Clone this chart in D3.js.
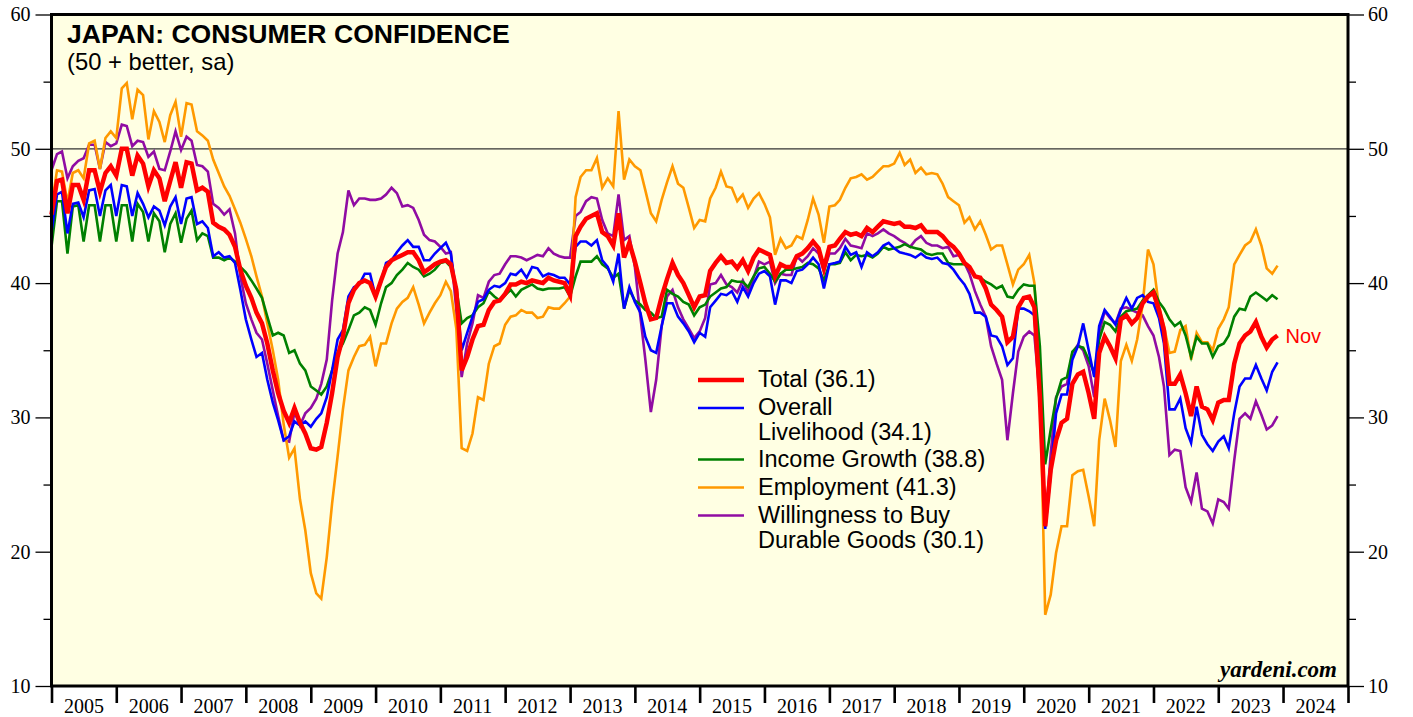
<!DOCTYPE html>
<html>
<head>
<meta charset="utf-8">
<script src="https://cdnjs.cloudflare.com/ajax/libs/d3/7.8.5/d3.min.js"></script>
<style>
  body { margin: 0; background: #fff; }
  svg { display: block; }
</style>
</head>
<body>
<svg id="chart" width="1413" height="717"></svg>
<script>
// monthly readings, Dec 2004 .. Nov 2023 (one row per year)
const firstMonth = new Date(2004, 11, 1);

const total = [
  45.1,
  47.6, 47.7, 45.2, 47.3, 47.3, 46.2, 48.4, 48.4, 46.8, 48.2, 48.7, 48.0,
  50.0, 50.0, 48.0, 49.5, 48.9, 47.2, 48.4, 47.8, 46.1, 47.6, 49.0, 47.1,
  49.0, 48.9, 46.9, 47.1, 46.8, 44.5, 44.2, 44.0, 43.6, 42.7, 41.0, 39.8,
  38.9, 37.8, 37.0, 35.5, 33.5, 31.8, 30.5, 29.6, 30.7, 29.6, 28.8, 27.7,
  27.6, 27.8, 29.6, 31.8, 34.5, 36.0, 38.5, 39.5, 40.0, 40.2, 40.0, 39.0,
  40.2, 41.2, 41.7, 41.9, 42.1, 42.3, 42.3, 41.7, 40.8, 41.1, 41.4, 41.6,
  41.7, 41.4, 39.5, 33.5, 34.5, 35.8, 36.8, 36.9, 38.0, 38.6, 38.7, 39.2,
  39.9, 39.9, 40.1, 40.0, 40.2, 40.1, 40.0, 40.4, 40.2, 40.1, 40.0, 39.1,
  43.5, 44.2, 44.8, 45.0, 45.2, 43.8, 43.5, 42.8, 45.2, 41.9, 43.0, 41.6,
  40.0, 38.5, 37.3, 37.4, 39.0, 40.3, 41.5, 40.6, 40.0, 39.1, 38.2, 39.0,
  39.1, 40.9, 41.5, 42.0, 41.5, 41.6, 41.1, 41.7, 40.9, 41.9, 42.5, 42.3,
  42.1, 40.5, 41.4, 41.2, 41.2, 42.0, 42.2, 42.6, 43.1, 42.6, 41.1, 42.7,
  42.8, 43.3, 43.8, 43.6, 43.7, 43.5, 44.1, 43.8, 44.2, 44.6, 44.5, 44.4,
  44.5, 44.2, 44.2, 44.1, 44.3, 43.8, 43.8, 43.8, 43.5, 43.0, 42.7, 42.2,
  41.5, 41.2, 40.5, 40.4, 39.6, 38.4, 38.0, 37.5, 35.6, 36.0, 38.2, 38.9,
  39.0, 38.2, 31.5, 21.9, 26.1, 28.3, 29.6, 29.9, 32.5, 33.2, 33.4, 31.8,
  29.9, 34.8, 36.0, 35.3, 34.4, 37.3, 37.6, 37.0, 37.4, 38.5, 39.0, 39.3,
  38.0, 36.5, 32.5, 32.5, 33.2, 31.8, 30.1, 32.3, 30.8, 30.6, 29.8, 31.1,
  31.3, 31.3, 34.0, 35.5, 36.1, 36.4, 37.1, 36.0, 35.2, 35.8, 36.1
];

const overallLivelihood = [
  43.8,
  46.6, 46.8, 43.7, 45.9, 46.0, 44.9, 46.9, 47.0, 45.0, 46.9, 47.3, 45.0,
  47.3, 47.2, 45.0, 46.7, 45.9, 44.9, 45.7, 45.4, 44.3, 45.7, 46.4, 44.4,
  46.3, 46.4, 44.4, 44.6, 44.1, 42.0, 42.3, 41.9, 42.0, 41.5, 39.5, 37.3,
  35.8, 34.5, 34.8, 32.8, 31.1, 29.8, 28.3, 28.6, 29.7, 29.4, 29.7, 29.3,
  29.9, 30.3, 31.5, 33.5, 35.8, 36.5, 39.0, 39.7, 39.9, 40.7, 40.7, 39.0,
  40.1, 41.5, 41.7, 42.3, 42.8, 43.2, 42.7, 42.7, 41.7, 41.7, 42.2, 42.6,
  43.0, 42.2, 39.2, 35.0, 36.3, 37.5, 38.6, 38.8, 39.5, 39.8, 39.7, 40.0,
  40.7, 40.6, 41.0, 40.4, 41.2, 41.1, 40.5, 40.7, 40.6, 40.4, 40.4, 39.9,
  42.7, 43.1, 43.1, 42.8, 43.2, 41.7, 41.2, 40.1, 42.2, 38.1, 39.7, 38.6,
  37.8, 36.0, 35.0, 34.8, 36.8, 38.5, 38.5, 37.5, 37.0, 36.4, 35.6, 36.3,
  36.0, 38.2, 38.7, 39.2, 39.1, 39.4, 38.6, 39.7, 39.0, 40.0, 40.7, 40.9,
  40.5, 38.4, 40.2, 40.2, 40.0, 40.9, 41.0, 41.4, 41.9, 41.4, 39.6, 41.4,
  41.5, 41.6, 42.7, 42.1, 42.3, 41.2, 42.3, 42.0, 42.3, 42.8, 43.0, 42.6,
  42.3, 42.2, 42.1, 41.9, 42.2, 41.9, 41.8, 41.9, 41.5, 41.4, 41.0, 40.4,
  39.9, 39.2, 37.8, 37.8, 37.5, 36.1, 36.0, 35.3, 33.9, 34.4, 38.1, 38.1,
  37.9, 37.6, 31.5, 21.7, 25.8, 30.3, 31.7, 31.7, 34.3, 35.3, 37.0, 35.0,
  33.0, 36.8, 38.0, 37.5, 36.9, 38.0, 38.9, 38.1, 38.9, 39.1, 38.6, 38.5,
  37.4, 35.5, 30.6, 30.6, 31.4, 29.2, 28.1, 30.8, 28.7, 28.0, 27.5, 28.2,
  28.6, 27.7, 30.3, 32.3, 32.9, 32.9, 33.9, 32.9, 32.0, 33.4, 34.1
];

const incomeGrowth = [
  42.7,
  46.1, 46.1, 42.2, 45.7, 45.8, 43.1, 45.8, 45.8, 43.1, 45.8, 45.8, 43.1,
  45.8, 45.8, 43.1, 45.9, 45.3, 43.1, 45.2, 44.6, 42.3, 44.4, 45.2, 43.0,
  44.8, 45.4, 43.2, 43.7, 43.5, 41.9, 41.9, 41.7, 41.9, 41.6, 41.2, 40.8,
  40.2, 39.6, 38.9, 37.5, 36.1, 36.3, 36.1, 34.8, 35.0, 34.0, 33.5, 32.3,
  32.0, 31.7, 32.3, 33.5, 34.8, 35.5, 36.5, 37.6, 37.8, 38.2, 38.0, 36.9,
  38.5, 39.7, 40.0, 40.6, 41.0, 41.5, 41.2, 41.0, 40.5, 40.7, 41.0, 41.5,
  41.6, 41.2, 39.6, 37.0, 37.4, 37.6, 38.2, 38.5, 39.4, 39.0, 38.7, 39.1,
  39.5, 39.0, 39.5, 39.7, 39.9, 39.6, 39.5, 39.6, 39.6, 39.6, 39.7, 39.0,
  40.5, 41.6, 41.6, 41.6, 42.0, 41.4, 41.1, 40.4, 40.7, 38.1, 39.5, 38.7,
  38.4, 38.0, 37.8, 37.4, 37.5, 39.5, 39.2, 39.0, 38.6, 38.4, 37.6, 38.2,
  38.4, 39.0, 39.3, 39.6, 39.7, 40.2, 40.1, 40.1, 39.7, 40.5, 41.1, 41.2,
  40.7, 40.1, 40.7, 41.0, 41.0, 41.1, 41.2, 41.5, 41.4, 41.1, 40.2, 41.4,
  41.4, 41.5, 42.3, 41.7, 42.1, 42.0, 42.1, 41.9, 42.2, 42.7, 42.5, 42.6,
  42.7, 42.9, 42.7, 42.6, 42.5, 42.2, 42.1, 42.2, 42.2, 41.5, 41.4, 41.4,
  41.4, 41.1, 40.5, 40.4, 40.1, 39.9, 39.6, 39.8, 39.0, 38.9, 39.5, 39.9,
  39.8, 39.8, 35.3, 26.5, 29.1, 31.4, 32.8, 33.0, 34.9, 35.3, 35.2, 34.3,
  33.3, 35.8, 37.1, 36.9, 36.4, 37.5, 37.9, 38.0, 38.1, 38.7, 39.1, 39.5,
  38.6, 38.1, 37.3, 36.8, 37.1, 36.1, 34.5, 36.0, 35.5, 35.5, 34.5, 35.3,
  35.5, 36.1, 37.5, 38.1, 38.0, 39.0, 39.3, 39.0, 38.7, 39.1, 38.8
];

const employment = [
  45.7,
  48.4, 48.3, 46.0, 48.2, 48.4, 47.8, 50.4, 50.6, 48.5, 50.8, 51.3, 50.8,
  54.5, 54.9, 52.2, 54.4, 54.0, 50.7, 52.8, 52.0, 50.5, 52.5, 53.5, 50.9,
  53.4, 53.3, 51.3, 51.0, 50.6, 49.2, 48.2, 47.2, 46.5, 45.5, 44.5, 43.3,
  42.0, 40.5, 39.0, 37.0, 35.0, 32.8, 29.5, 27.0, 27.7, 23.9, 21.6, 18.4,
  16.9, 16.5, 19.6, 23.6, 27.1, 30.6, 33.5, 34.5, 35.3, 35.4, 36.0, 33.8,
  35.5, 35.5, 37.0, 38.1, 38.6, 38.9, 39.7, 38.4, 37.0, 37.8, 38.5, 39.1,
  40.1, 39.4, 36.6, 27.7, 27.5, 28.8, 31.5, 31.3, 34.0, 35.3, 35.5, 36.9,
  37.5, 37.6, 38.0, 37.8, 37.8, 37.4, 37.5, 38.2, 38.1, 38.1, 38.5, 39.0,
  46.4, 47.9, 48.4, 48.4, 49.3, 47.1, 47.8, 47.2, 52.8, 47.7, 49.2, 48.7,
  48.4, 46.9, 45.2, 44.6, 46.2, 47.5, 48.7, 47.4, 47.1, 45.6, 44.1, 44.7,
  44.6, 46.3, 47.1, 48.3, 47.2, 47.1, 46.1, 46.6, 45.6, 46.3, 46.7, 45.9,
  44.9, 42.1, 43.3, 42.6, 42.8, 43.5, 43.3, 44.7, 46.3, 45.1, 43.0, 45.7,
  45.8, 46.2, 47.1, 47.8, 47.9, 48.1, 47.7, 47.9, 48.3, 48.7, 48.7, 48.9,
  49.7, 48.8, 49.2, 48.2, 48.6, 48.1, 48.2, 48.1, 47.4, 46.4, 46.1, 45.8,
  44.5, 44.9, 44.0, 44.6, 43.6, 42.5, 42.8, 42.8, 41.4, 39.9, 41.0, 41.4,
  42.1, 40.0, 32.8, 15.3, 16.8, 19.9, 21.9, 21.9, 25.7, 26.0, 26.1, 24.1,
  21.9, 28.3, 31.4, 29.8, 27.8, 34.2, 35.4, 34.2, 35.8, 38.4, 42.5, 41.4,
  38.2, 36.8, 34.8, 34.9, 36.5, 36.8, 34.3, 36.3, 35.6, 35.6, 35.0, 36.6,
  37.3, 38.2, 41.4, 42.1, 42.8, 43.1, 44.0, 42.8, 41.1, 40.7, 41.3
];

const durableGoods = [
  48.4,
  49.6, 49.8, 47.8, 48.7, 49.1, 49.3, 50.3, 50.3, 48.5, 50.5, 50.2, 50.4,
  51.8, 51.7, 50.2, 50.6, 50.5, 49.4, 49.8, 48.5, 48.4, 49.8, 51.3, 49.9,
  50.9, 50.6, 48.8, 48.7, 48.3, 45.9, 45.6, 45.1, 45.5, 43.7, 40.5, 38.5,
  37.3, 36.3, 35.8, 34.0, 32.0, 30.1, 28.3, 28.2, 30.4, 29.4, 30.3, 30.7,
  31.4, 32.5, 34.3, 38.7, 42.2, 43.8, 46.9, 45.8, 46.3, 46.3, 46.2, 46.2,
  46.3, 46.6, 47.1, 46.7, 45.7, 45.8, 45.6, 44.7, 43.6, 43.2, 43.1, 42.7,
  42.2, 42.3, 38.0, 33.0, 35.5, 37.0, 39.1, 38.9, 40.1, 40.6, 40.7, 41.4,
  42.0, 42.0, 41.9, 41.7, 41.9, 42.1, 42.0, 42.6, 42.2, 42.0, 41.9, 41.9,
  45.0, 45.3, 46.1, 46.4, 46.3, 44.7, 43.7, 43.5, 46.6, 43.2, 43.5, 41.2,
  37.5, 34.3, 30.4, 32.8, 36.8, 39.0, 39.5, 38.2, 37.3, 36.6, 35.9, 36.4,
  37.4, 39.9, 40.0, 40.6, 39.9, 39.7, 39.3, 40.2, 39.3, 40.4, 41.6, 41.4,
  41.6, 40.0, 40.7, 40.6, 40.6, 42.0, 41.6, 42.0, 42.6, 42.2, 40.9, 42.2,
  42.2, 42.6, 43.3, 42.8, 42.7, 42.6, 43.7, 43.5, 43.7, 44.0, 43.7, 43.5,
  43.2, 43.0, 42.7, 43.2, 43.5, 43.0, 42.8, 42.8, 42.6, 42.7, 42.0, 42.1,
  41.5, 40.7, 39.4, 38.4, 37.5, 35.3, 34.0, 32.8, 28.3, 31.8, 34.9, 36.0,
  36.4, 36.1, 31.5, 21.9, 27.3, 31.5, 32.3, 32.5, 34.8, 35.4, 35.0, 33.8,
  31.5, 36.3, 37.9, 37.4, 37.0, 38.1, 38.2, 38.0, 37.8, 37.6, 36.8, 36.1,
  34.5, 32.3, 27.2, 27.6, 27.5, 24.8, 23.7, 25.9, 23.2, 23.0, 22.1, 23.9,
  23.7, 23.2, 26.8, 29.9, 30.3, 29.9, 31.2, 30.2, 29.1, 29.4, 30.1
];

const yearLabels = d3.range(2005, 2025);
const yMajorTicks = [10, 20, 30, 40, 50, 60];
const yMinorTicks = [15, 25, 35, 45, 55];

const plot = { left: 51.5, right: 1348, top: 14.5, bottom: 686 };

const months = d3.timeMonth.range(firstMonth, d3.timeMonth.offset(firstMonth, total.length));

// legend order; drawn in reverse so Total sits on top
const series = [
  { name: ['Total'], values: total, color: '#ff0000', width: 4.5 },
  { name: ['Overall', 'Livelihood'], values: overallLivelihood, color: '#0000ff', width: 2.6 },
  { name: ['Income Growth'], values: incomeGrowth, color: '#008000', width: 2.6 },
  { name: ['Employment'], values: employment, color: '#ff9900', width: 2.6 },
  { name: ['Willingness to Buy', 'Durable Goods'], values: durableGoods, color: '#900ca3', width: 2.6 }
];

const svg = d3.select('#chart');

const x = d3.scaleTime()
  .domain([new Date(2005, 0, 1), new Date(2025, 0, 1)])
  .range([plot.left, plot.right]);

const y = d3.scaleLinear()
  .domain([10, 60])
  .range([plot.bottom, plot.top]);

// plot background
svg.append('rect')
  .attr('x', plot.left)
  .attr('y', plot.top)
  .attr('width', plot.right - plot.left)
  .attr('height', plot.bottom - plot.top)
  .attr('fill', '#ffffe3');

// 50 reference line
svg.append('line')
  .attr('x1', plot.left)
  .attr('x2', plot.right)
  .attr('y1', y(50))
  .attr('y2', y(50))
  .attr('stroke', '#333')
  .attr('stroke-width', 1.2);

// each reading sits at the end of its month
const line = d3.line()
  .x((d, i) => x(d3.timeMonth.offset(months[i], 1)))
  .y(d => y(d));

svg.append('g')
  .selectAll('path')
  .data(series.slice().reverse())
  .enter().append('path')
  .attr('d', d => line(d.values))
  .attr('fill', 'none')
  .attr('stroke', d => d.color)
  .attr('stroke-width', d => d.width);

// frame
svg.append('rect')
  .attr('x', plot.left)
  .attr('y', plot.top)
  .attr('width', plot.right - plot.left)
  .attr('height', plot.bottom - plot.top)
  .attr('fill', 'none')
  .attr('stroke', '#000')
  .attr('stroke-width', 3);

const styleAxis = g => {
  g.select('.domain').remove();
  g.selectAll('line').attr('stroke', '#000').attr('stroke-width', 1.3);
  g.selectAll('text')
    .attr('font-family', '"Liberation Serif", "Times New Roman", serif')
    .attr('font-size', 20)
    .attr('fill', '#000');
};

svg.append('g')
  .attr('transform', `translate(${plot.left},0)`)
  .call(d3.axisLeft(y).tickValues(yMajorTicks).tickSize(16).tickPadding(5))
  .call(styleAxis);

svg.append('g')
  .attr('transform', `translate(${plot.left},0)`)
  .call(d3.axisLeft(y).tickValues(yMinorTicks).tickSize(8).tickFormat(''))
  .call(styleAxis);

svg.append('g')
  .attr('transform', `translate(${plot.right},0)`)
  .call(d3.axisRight(y).tickValues(yMajorTicks).tickSize(16).tickPadding(4))
  .call(styleAxis);

svg.append('g')
  .attr('transform', `translate(${plot.right},0)`)
  .call(d3.axisRight(y).tickValues(yMinorTicks).tickSize(8).tickFormat(''))
  .call(styleAxis);

// year ticks at Jan 1, labels centred in each year
const xAxis = svg.append('g')
  .attr('transform', `translate(0,${plot.bottom})`)
  .call(d3.axisBottom(x).ticks(d3.timeYear.every(1)).tickSize(17).tickFormat(''))
  .call(styleAxis);
xAxis.selectAll('line').attr('stroke-width', 2.6);

svg.append('g')
  .selectAll('text')
  .data(yearLabels)
  .enter().append('text')
  .attr('x', d => (x(new Date(d, 0, 1)) + x(new Date(d + 1, 0, 1))) / 2)
  .attr('y', 713)
  .attr('text-anchor', 'middle')
  .attr('font-family', '"Liberation Serif", "Times New Roman", serif')
  .attr('font-size', 20)
  .text(d => d);

// titles
svg.append('text')
  .attr('x', 67)
  .attr('y', 43)
  .attr('font-family', '"Liberation Sans", Arial, sans-serif')
  .attr('font-weight', 'bold')
  .attr('font-size', 26.6)
  .text('JAPAN: CONSUMER CONFIDENCE');

svg.append('text')
  .attr('x', 67)
  .attr('y', 70)
  .attr('font-family', '"Liberation Sans", Arial, sans-serif')
  .attr('font-size', 23.8)
  .text('(50 + better, sa)');

svg.append('text')
  .attr('x', 1337)
  .attr('y', 677)
  .attr('text-anchor', 'end')
  .attr('font-family', '"Liberation Serif", "Times New Roman", serif')
  .attr('font-weight', 'bold')
  .attr('font-style', 'italic')
  .attr('font-size', 23)
  .text('yardeni.com');

// last month marker
const lastIdx = total.length - 1;
svg.append('text')
  .attr('x', x(d3.timeMonth.offset(months[lastIdx], 1)) + 8)
  .attr('y', y(total[lastIdx]) + 7.5)
  .attr('font-family', '"Liberation Sans", Arial, sans-serif')
  .attr('font-size', 20)
  .attr('fill', '#ff0000')
  .text('Nov');

// legend
const legend = svg.append('g');
let baseY = 387;
series.forEach(s => {
  const last = s.values[s.values.length - 1];
  const labelLines = s.name.slice();
  labelLines[labelLines.length - 1] += ` (${d3.format('.1f')(last)})`;

  legend.append('line')
    .attr('x1', 698)
    .attr('x2', 744)
    .attr('y1', baseY - 7)
    .attr('y2', baseY - 7)
    .attr('stroke', s.color)
    .attr('stroke-width', s.width);

  labelLines.forEach((t, j) => {
    legend.append('text')
      .attr('x', 758)
      .attr('y', baseY + j * 25)
      .attr('font-family', '"Liberation Sans", Arial, sans-serif')
      .attr('font-size', 23.5)
      .attr('fill', '#000')
      .text(t);
  });

  baseY += (labelLines.length - 1) * 25 + (labelLines.length > 1 ? 26.5 : 28);
});
</script>
</body>
</html>
